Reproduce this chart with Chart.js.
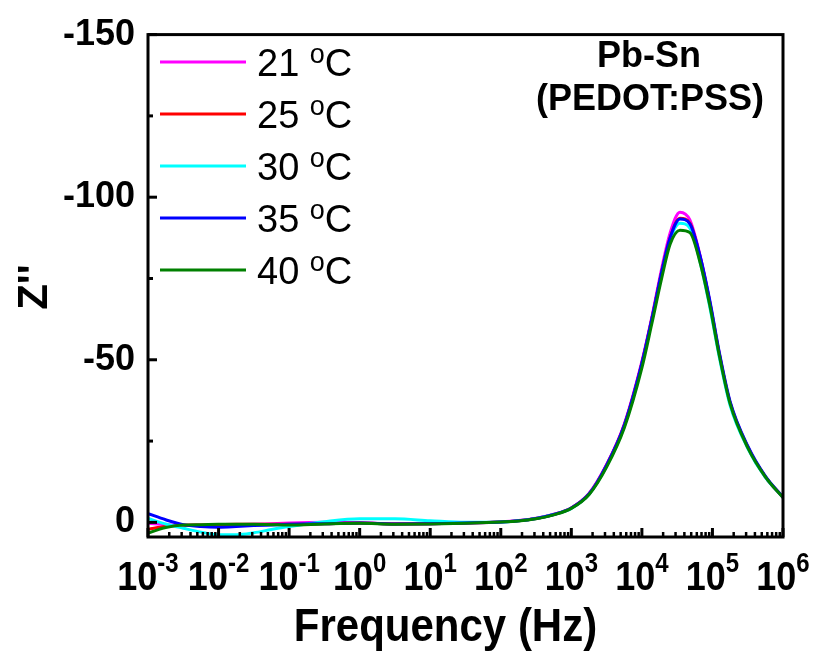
<!DOCTYPE html>
<html>
<head>
<meta charset="utf-8">
<script src="https://cdn.jsdelivr.net/npm/chart.js@4"></script>
<style>
  html, body { margin: 0; padding: 0; background: #fff; }
  #wrap { width: 813px; height: 659px; position: relative; }
</style>
</head>
<body>
<div id="wrap"><canvas id="zchart"></canvas></div>
<script>
// ------------------------------------------------------------
// Pb-Sn (PEDOT:PSS) — Bode plot of Z'' vs frequency
// ------------------------------------------------------------

const freqHz = [0.001, 0.00178, 0.00316, 0.00562, 0.01, 0.0178, 0.0316, 0.0562, 0.1, 0.316,
    1, 3.16, 10, 31.6, 100, 178, 316, 562, 1000, 1778, 3162, 5623, 10000, 13800, 19050, 25120,
    34670, 47860, 66070, 91200, 125900, 177800, 316200, 562300, 1000000];

const seriesLabels = ["21", "25", "30", "35", "40"];
const seriesColors = ["#ff00ff", "#ff0000", "#00ffff", "#0000ff", "#008000"];

const z21 = [0.3, 0.7, 0.9, 0.9, 0.8, 0.7, 0.6, 0.4, 0.2, 0, 0.1, 0.4, 0.4, 0.2, -0.2, -0.6, -1.3, -2.5,
    -4.5, -8.9, -17.8, -30.2, -49.5, -63, -78, -89, -95.4, -93, -82.5, -68, -51.5, -36.8, -23.3, -14, -7.7];
const z25 = [2.1, 1.3, 0.9, 0.8, 0.7, 0.6, 0.6, 0.6, 0.6, 0.4, 0.2, 0.5, 0.4, 0.2, -0.1, -0.5, -1.2, -2.4,
    -4.4, -8.7, -17.6, -29.9, -49, -62.5, -77, -87.5, -93.5, -92, -82, -68, -51.5, -36.8, -23.2, -14, -7.7];
const z30 = [-1.2, 0.5, 1.8, 3.0, 3.8, 3.8, 3.2, 2.2, 1.3, -0.2, -1.1, -1.1, -0.5, 0, -0.1, -0.5, -1.2, -2.4,
    -4.3, -8.6, -17.3, -29.5, -48.5, -62, -76.5, -87, -92, -90.5, -80.5, -66.5, -50.5, -36, -22.8, -13.8, -7.7];
const z35 = [-2.7, -0.8, 0.7, 1.3, 1.5, 1.3, 1.0, 0.8, 0.6, 0.4, 0.2, 0.5, 0.4, 0.2, -0.1, -0.5, -1.2, -2.4,
    -4.4, -8.7, -17.6, -29.9, -49, -62.5, -77, -87.5, -93.3, -91.8, -82.3, -68.5, -52, -37.2, -23.5, -14.2, -7.7];
const z40 = [3.3, 1.6, 0.8, 0.7, 0.6, 0.6, 0.6, 0.7, 0.8, 0.5, 0.3, 0.6, 0.5, 0.3, -0.1, -0.4, -1.1, -2.3,
    -4.3, -8.5, -17, -29, -47.5, -61, -75, -85.5, -89.8, -89.1, -80.3, -67, -51, -36.5, -23, -14, -7.6];

const yTicks = [-150, -125, -100, -75, -50, -25, 0];
const xExponents = [-3, -2, -1, 0, 1, 2, 3, 4, 5, 6];

const FONT = "'Liberation Sans', Arial, sans-serif";

const allSeries = [z21, z25, z30, z35, z40];

const datasets = allSeries.map((vals, i) => ({
    label: seriesLabels[i] + " °C",
    data: vals.map((v, k) => ({ x: freqHz[k], y: v })),
    borderColor: seriesColors[i],
    backgroundColor: seriesColors[i],
    borderWidth: 3,
    pointRadius: 0,
    cubicInterpolationMode: "monotone",
    order: allSeries.length - i
}));

// text drawn slightly taller than wide, like the original figure
function tallText(ctx, txt, x, y, sy) {
    ctx.save();
    ctx.translate(x, y);
    ctx.scale(1, sy);
    ctx.fillText(txt, 0, 0);
    ctx.restore();
}

// frame, inward ticks, log labels, titles and legend
const decorations = {
    id: "decorations",
    afterDatasetsDraw(chart) {
        const { ctx, chartArea: a, scales: { x, y } } = chart;
        ctx.save();
        ctx.strokeStyle = "#000";
        ctx.fillStyle = "#000";
        ctx.lineWidth = 3;
        ctx.strokeRect(a.left, a.top, a.right - a.left, a.bottom - a.top);

        // y ticks (inside)
        yTicks.forEach(v => {
            const py = y.getPixelForValue(v);
            const len = v % 50 === 0 ? 9 : 5;
            ctx.beginPath();
            ctx.moveTo(a.left, py);
            ctx.lineTo(a.left + len, py);
            ctx.stroke();
        });

        // x ticks (inside)
        xExponents.forEach(e => {
            for (let m = 1; m <= 9; m++) {
                if (e === 6 && m > 1) break;
                const px = x.getPixelForValue(m * Math.pow(10, e));
                const len = m === 1 ? 9 : 5;
                ctx.lineWidth = m === 1 ? 3 : 2.5;
                ctx.beginPath();
                ctx.moveTo(px, a.bottom);
                ctx.lineTo(px, a.bottom - len);
                ctx.stroke();
            }
        });

        // x tick labels 10^n
        ctx.textBaseline = "alphabetic";
        ctx.textAlign = "left";
        xExponents.forEach(e => {
            const px = x.getPixelForValue(Math.pow(10, e));
            ctx.font = "bold 36px " + FONT;
            const wBase = ctx.measureText("10").width;
            ctx.font = "bold 24px " + FONT;
            const wExp = ctx.measureText(String(e)).width;
            const x0 = px - (wBase + wExp) / 2;
            ctx.font = "bold 36px " + FONT;
            tallText(ctx, "10", x0, 590, 1.14);
            ctx.font = "bold 24px " + FONT;
            tallText(ctx, String(e), x0 + wBase, 572, 1.14);
        });

        // axis titles
        ctx.font = "bold 42px " + FONT;
        ctx.textAlign = "center";
        tallText(ctx, "Frequency (Hz)", (a.left + a.right) / 2 - 20, 641, 1.08);
        ctx.save();
        ctx.translate(47, 287);
        ctx.rotate(-Math.PI / 2);
        ctx.fillText("Z''", 0, 0);
        ctx.restore();

        // annotation
        ctx.font = "bold 36px " + FONT;
        ctx.fillText("Pb-Sn", 649, 67);
        ctx.fillText("(PEDOT:PSS)", 650, 110);

        // legend
        ctx.textAlign = "left";
        chart.data.datasets.forEach((ds, i) => {
            const ly = 62 + i * 52;
            ctx.strokeStyle = ds.borderColor;
            ctx.lineWidth = 3;
            ctx.beginPath();
            ctx.moveTo(160, ly);
            ctx.lineTo(246, ly);
            ctx.stroke();
            let tx = 257;
            ctx.font = "38px " + FONT;
            ctx.fillText(seriesLabels[i] + " ", tx, ly + 14);
            tx += ctx.measureText(seriesLabels[i] + " ").width;
            ctx.font = "27px " + FONT;
            ctx.fillText("o", tx, ly + 1);
            tx += ctx.measureText("o").width;
            ctx.font = "38px " + FONT;
            ctx.fillText("C", tx, ly + 14);
        });
        ctx.restore();
    }
};

new Chart(document.getElementById("zchart").getContext("2d"), {
    type: "line",
    data: { datasets },
    options: {
        responsive: true,
        maintainAspectRatio: false,
        animation: false,
        layout: { padding: { top: 27, right: 30, left: 0, bottom: 0 } },
        plugins: {
            legend: { display: false },
            tooltip: { enabled: false }
        },
        scales: {
            x: {
                type: "logarithmic",
                min: 0.001,
                max: 1000000,
                grid: { display: false },
                border: { display: false },
                ticks: { display: false },
                afterFit: s => { s.height = 122; }
            },
            y: {
                type: "linear",
                min: -150,
                max: 4.5,
                reverse: true,
                grid: { display: false, drawTicks: false },
                border: { display: false },
                afterBuildTicks: s => { s.ticks = yTicks.map(v => ({ value: v })); },
                ticks: {
                    autoSkip: false,
                    padding: 13,
                    color: "#000",
                    font: { family: FONT, size: 36, weight: "bold" },
                    callback: v => (v % 50 === 0 ? String(v) : "")
                },
                afterFit: s => { s.width = 148; }
            }
        }
    },
    plugins: [decorations]
});
</script>
</body>
</html>
